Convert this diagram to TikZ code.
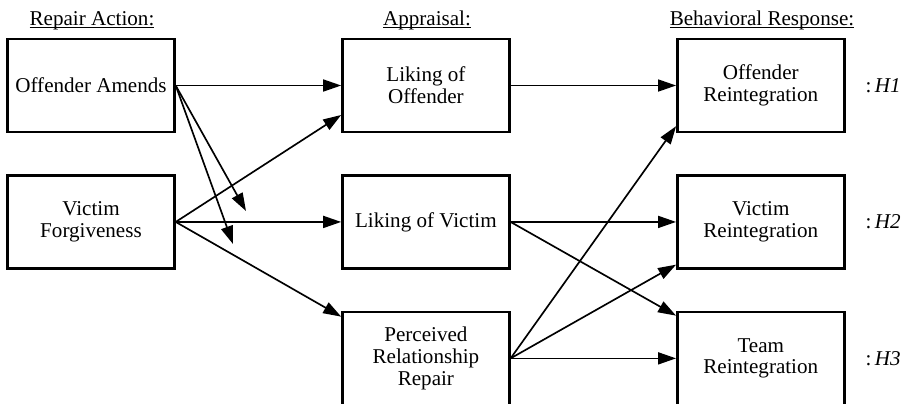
\documentclass[tikz,border=0pt]{standalone}
\usepackage{fontspec}
\setmainfont{Liberation Serif}
\usetikzlibrary{positioning,arrows.meta}

\newcommand{\hdr}[1]{\underline{\smash{#1}}}

\begin{document}
\begin{tikzpicture}[
    x=0.02cm, y=-0.02cm,
    node distance=0.82cm and 3.31cm,
    box/.style={rectangle, draw, line width=1.4pt, minimum width=3.34cm,
                minimum height=1.86cm, align=center, font=\fontsize{12}{12.5}\selectfont},
    head/.style={anchor=base, font=\fontsize{12}{12.5}\selectfont},
    hyp/.style={anchor=west, inner sep=1pt, font=\fontsize{12}{12.5}\selectfont},
    arrow/.style={-{Triangle[length=0.36cm, width=0.24cm]}, line width=0.95pt}
  ]
  \useasboundingbox (0,0) rectangle (904,403);

  % ---- Repair action ----
  \node[box] (oa) at (91,85.5) {Offender Amends};
  \node[box, below=of oa] (vf) {Victim\\Forgiveness};

  % ---- Appraisal ----
  \node[box, right=of oa]  (lo)  {Liking of\\Offender};
  \node[box, right=of vf]  (lv)  {Liking of Victim};
  \node[box, below=of lv]  (prr) {Perceived\\Relationship\\Repair};

  % ---- Behavioral response ----
  \node[box, right=of lo]  (or) {Offender\\Reintegration};
  \node[box, right=of lv]  (vr) {Victim\\Reintegration};
  \node[box, right=of prr] (tr) {Team\\Reintegration};

  % ---- Column heads ----
  \node[head] (hrep) at (92,25)  {\hdr{Repair Action:}};
  \node[head] (happ) at (427,25) {\hdr{Appraisal:}};
  \node[head] (hbeh) at (762,25) {\hdr{Behavioral Response:}};

  % ---- Hypotheses ----
  \node[hyp, right=0.36cm of or] (h1) {:\,\textit{H1}};
  \node[hyp, right=0.36cm of vr] (h2) {:\,\textit{H2}};
  \node[hyp, right=0.36cm of tr] (h3) {:\,\textit{H3}};

  % ---- free ends ----
  \coordinate (m1) at (246,211);
  \coordinate (m2) at (233,244);

  % ---- Arrows ----
  \draw[arrow] (oa.east) -- (lo.west);
  \draw[arrow] (oa.east) -- (m1);
  \draw[arrow] (oa.east) -- (m2);
  \draw[arrow] (vf.east) -- ([yshift=-0.59cm]lo.west);
  \draw[arrow] (vf.east) -- (lv.west);
  \draw[arrow] (vf.east) -- ([yshift=-0.12cm]prr.north west);
  \draw[arrow] (lo.east) -- (or.west);
  \draw[arrow] (lv.east) -- (vr.west);
  \draw[arrow] (lv.east) -- ([yshift=-0.1cm]tr.north west);
  \draw[arrow] (prr.east) -- ([yshift=0.14cm]or.south west);
  \draw[arrow] (prr.east) -- ([yshift=0.1cm]vr.south west);
  \draw[arrow] (prr.east) -- (tr.west);
\end{tikzpicture}
\end{document}
